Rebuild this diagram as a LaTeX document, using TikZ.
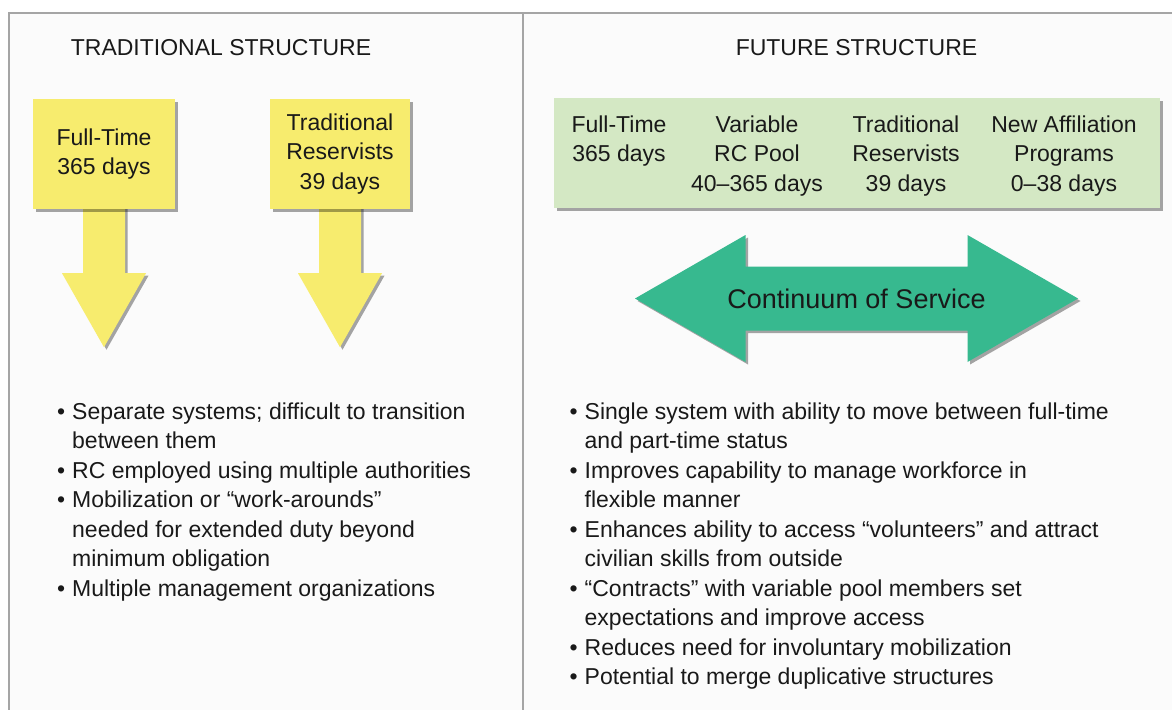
\documentclass[tikz,border=0pt]{standalone}
\usepackage{fontspec}
\setmainfont{Liberation Sans}
\usetikzlibrary{shadows,calc}
\definecolor{yel}{RGB}{247,236,110}
\definecolor{gbox}{RGB}{212,232,196}
\definecolor{teal2}{RGB}{55,185,143}
\definecolor{framec}{RGB}{165,165,165}
\definecolor{bgc}{RGB}{251,251,251}
\definecolor{txt}{RGB}{25,25,25}
\pgfdeclarelayer{back}
\pgfdeclarelayer{bg}
\pgfsetlayers{back,bg,main}
\newcommand{\bul}{\makebox[15pt][l]{•}}
\newcommand{\ind}{\hspace*{15pt}}
\begin{document}
\begin{tikzpicture}[x=1pt,y=-1pt,
  every node/.style={inner sep=0pt, text=txt},
  title/.style={font=\fontsize{23}{28}\selectfont, anchor=base},
  body/.style={font=\fontsize{23}{29.45}\selectfont, align=left, anchor=base west},
  shad/.style={drop shadow={shadow xshift=2.5pt, shadow yshift=-2.5pt, opacity=.35, fill=black}},
  ybox/.style={shad, fill=yel, minimum height=110pt, align=center, font=\fontsize{23}{29.8}\selectfont},
  gcol/.style={align=center, anchor=base, font=\fontsize{23}{29.5}\selectfont},
  yarrow/.style={shad, fill=yel}
]
\useasboundingbox (0,0) rectangle (1172,710);
\begin{pgfonlayer}{back}
  \fill[white] (0,0) rectangle (1172,710);
  \fill[bgc] (9,13) rectangle (1172,710);
  \draw[framec, line width=1.6pt] (1172,13) -- (9,13) -- (9,710);
  \draw[framec, line width=1.6pt] (523,13) -- (523,710);
\end{pgfonlayer}

% titles
\node[title] (t1) at (221,55) {TRADITIONAL STRUCTURE};
\node[title] (t2) at (856.5,55) {FUTURE STRUCTURE};

% traditional boxes
\node[ybox, minimum width=142pt] (b1) at (104,154) {Full-Time\\365 days};
\node[ybox, minimum width=140pt] (b2) at (340,154) {Traditional\\Reservists\\39 days};

\begin{pgfonlayer}{bg}
  \foreach \b in {b1,b2}{
    \fill[yarrow] ($(\b.south)+(-21,-5)$) -- ($(\b.south)+(-21,64)$) -- ($(\b.south)+(-42,64)$)
      -- ($(\b.south)+(0,138)$) -- ($(\b.south)+(42,64)$) -- ($(\b.south)+(21,64)$)
      -- ($(\b.south)+(21,-5)$) -- cycle;
  }
\end{pgfonlayer}

% future box (base anchor of a multi-line node = last line's baseline)
\node[shad, fill=gbox, minimum width=606pt, minimum height=110pt] (g) at (857,153) {};
\node[gcol] (g1) at (619,161.5) {Full-Time\\365 days};
\node[gcol] (g2) at (757,191) {Variable\\RC Pool\\40–365 days};
\node[gcol] (g3) at (906,191) {Traditional\\Reservists\\39 days};
\node[gcol] (g4) at (1064,191) {New Affiliation\\Programs\\0–38 days};

% continuum arrow
\node[font=\fontsize{27}{32}\selectfont, anchor=base] (cos) at (856.5,308) {Continuum of Service};
\coordinate (cc) at (856.5,298.5);
\begin{pgfonlayer}{bg}
  \fill[shad, teal2] ($(cc)+(-221.5,0)$) -- ($(cc)+(-111,-63.5)$) -- ($(cc)+(-111,-32)$)
    -- ($(cc)+(111,-32)$) -- ($(cc)+(111,-63.5)$) -- ($(cc)+(221.5,0)$)
    -- ($(cc)+(111,63.5)$) -- ($(cc)+(111,32)$) -- ($(cc)+(-111,32)$)
    -- ($(cc)+(-111,63.5)$) -- cycle;
\end{pgfonlayer}

% bullet lists
\node[body] (l1) at (57,596.2) {\bul Separate systems; difficult to transition\\\ind between them\\\bul RC employed using multiple authorities\\\bul Mobilization or “work-arounds”\\\ind needed for extended duty beyond\\\ind minimum obligation\\\bul Multiple management organizations};
\node[body] (l2) at (569.5,684.5) {\bul Single system with ability to move between full-time\\\ind and part-time status\\\bul Improves capability to manage workforce in\\\ind flexible manner\\\bul Enhances ability to access “volunteers” and attract\\\ind civilian skills from outside\\\bul “Contracts” with variable pool members set\\\ind expectations and improve access\\\bul Reduces need for involuntary mobilization\\\bul Potential to merge duplicative structures};
\end{tikzpicture}
\end{document}
